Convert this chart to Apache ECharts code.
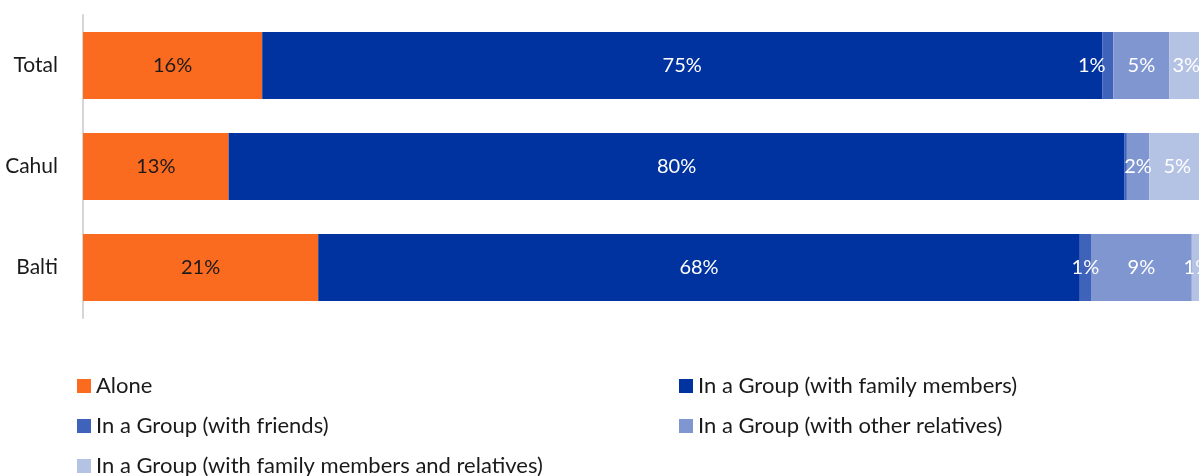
<!DOCTYPE html>
<html>
<head>
<meta charset="utf-8">
<title>Travel arrangement by region</title>
<script src="https://cdn.jsdelivr.net/npm/echarts@6/dist/echarts.min.js"></script>
<style>
  html, body { margin: 0; padding: 0; background: #ffffff; }
  #chart { width: 1199px; height: 476px; }
</style>
</head>
<body>
<div id="chart"></div>
<script>
// Regions, listed top to bottom
const categories = ['Total', 'Cahul', 'Balti'];

// Share of respondents (%) per region, same order as categories
const alone              = [16, 13, 21];
const familyMembers      = [75, 80, 68];
const friends            = [1, 0.2, 1];
const otherRelatives     = [5, 2, 9];
const familyAndRelatives = [3, 5, 1];

const seriesNames = [
  'Alone',
  'In a Group (with family members)',
  'In a Group (with friends)',
  'In a Group (with other relatives)',
  'In a Group (with family members and relatives)'
];
const seriesData = [alone, familyMembers, friends, otherRelatives, familyAndRelatives];
const colors = ['#FA6A1F', '#0033A0', '#3F62BA', '#7F96D1', '#B4C2E4'];
const labelColors = ['#1a1a1a', '#ffffff', '#ffffff', '#ffffff', '#ffffff'];

const FONT = 'Lato, "Open Sans", sans-serif';

const chart = echarts.init(document.getElementById('chart'), null, { renderer: 'canvas' });

const series = seriesNames.map((name, i) => ({
  name: name,
  type: 'bar',
  stack: 'total',
  barWidth: 67,
  clip: false,
  itemStyle: { color: colors[i] },
  label: {
    show: true,
    position: 'inside',
    color: labelColors[i],
    fontFamily: FONT,
    fontSize: 20,
    formatter: p => (p.value >= 0.5 ? Math.round(p.value) + '%' : '')
  },
  data: seriesData[i].map((v, j) => {
    // the narrow "friends" label in the Total row sits a little to the left
    if (i === 2 && j === 0) {
      return { value: v, label: { offset: [-16, 0] } };
    }
    return v;
  })
}));

// legend laid out in two columns
const legendSpots = [
  { left: 77, top: 374 },
  { left: 679, top: 374 },
  { left: 77, top: 414 },
  { left: 679, top: 414 },
  { left: 77, top: 454 }
];
const legends = seriesNames.map((name, i) => ({
  data: [name],
  left: legendSpots[i].left,
  top: legendSpots[i].top,
  icon: 'rect',
  itemWidth: 14,
  itemHeight: 14,
  itemGap: 6,
  padding: 0,
  selectedMode: false,
  textStyle: {
    fontFamily: FONT,
    fontSize: 22,
    lineHeight: 24,
    color: '#1a1a1a',
    padding: [0, 0, 0, 0]
  }
}));

chart.setOption({
  animation: false,
  backgroundColor: '#ffffff',
  grid: {
    left: 83,
    top: 15,
    width: 1120,
    height: 303,
    containLabel: false,
    outerBoundsMode: 'none'
  },
  legend: legends,
  xAxis: {
    type: 'value',
    min: 0,
    max: 100,
    show: false
  },
  yAxis: {
    type: 'category',
    inverse: true,
    data: categories,
    axisLine: { show: true, lineStyle: { color: '#D6D6D6', width: 2 } },
    axisTick: { show: false },
    axisLabel: { margin: 25, fontFamily: FONT, fontSize: 21, color: '#1a1a1a' }
  },
  series: series
});
</script>
</body>
</html>
